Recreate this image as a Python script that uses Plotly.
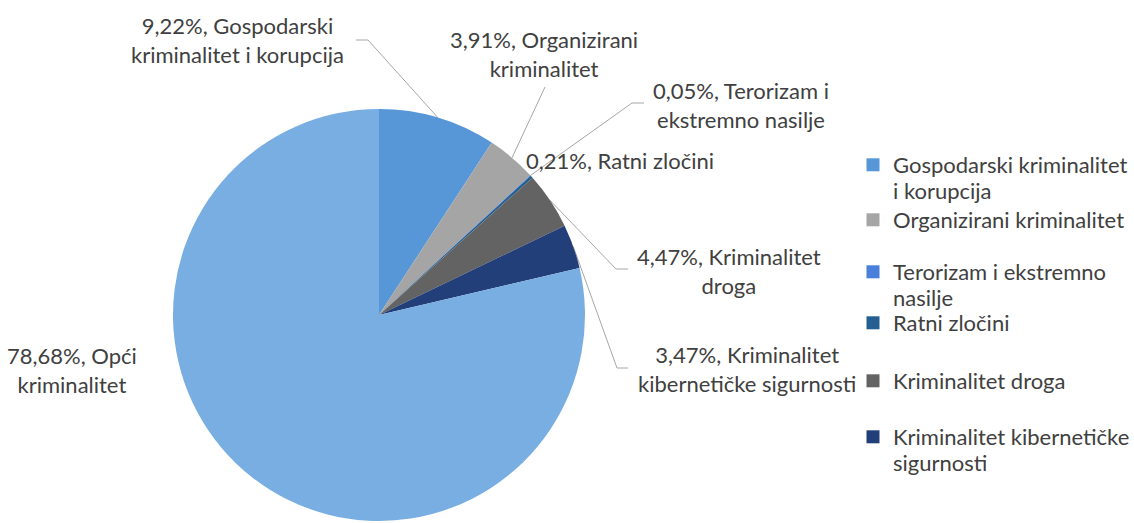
import math
import plotly.graph_objects as go

# ---- data ----
categories = ["Gospodarski kriminalitet i korupcija", "Organizirani kriminalitet",
              "Terorizam i ekstremno nasilje", "Ratni zločini", "Kriminalitet droga",
              "Kriminalitet kibernetičke sigurnosti", "Opći kriminalitet"]
shares = [9.22, 3.91, 0.05, 0.21, 4.47, 3.47, 78.68]
label_texts = ["9,22%, Gospodarski<br>kriminalitet i korupcija",
               "3,91%, Organizirani<br>kriminalitet",
               "0,05%, Terorizam i<br>ekstremno nasilje",
               "0,21%, Ratni zločini",
               "4,47%, Kriminalitet<br>droga",
               "3,47%, Kriminalitet<br>kibernetičke sigurnosti",
               "78,68%, Opći<br>kriminalitet"]
legend_first = ["Gospodarski kriminalitet", "Organizirani kriminalitet",
                "Terorizam i ekstremno", "Ratni zločini", "Kriminalitet droga",
                "Kriminalitet kibernetičke"]
legend_second = ["i korupcija", "", "nasilje", "", "", "sigurnosti"]

# ---- style ----
colors = ["#5797d8", "#a5a5a5", "#4a7fdc", "#255e91", "#636363", "#233f7a", "#78aee2"]
W, H = 1134, 523
CX, CY, R = 379, 315, 206
FONT = "Lato"
TXT = "#404040"
LINE = "#a6a6a6"
FS = 22

# label layout: (label center x, y, elbow x, y, end x, y) in pixels; None -> no leader
label_layout = [
    (237, 40, 368, 40, 356, 40),
    (544, 54, 545, 87, None, None),
    (741, 105, 632, 103, 644, 103),
    (620, 160, None, None, None, None),
    (729, 271, 616, 269, 628, 269),
    (747, 369, 617, 368, 628, 368),
    (72, 370, None, None, None, None),
]
# legend entries: first-line center y in pixels
legend_rows = [165, 220, 272, 323, 381, 437]
LEG_X = 853
LEG_TEXT_X = 891
LEG_LINE = 25

fig = go.Figure()
fig.add_trace(go.Pie(
    labels=categories, values=shares, sort=False, direction="clockwise", rotation=0,
    marker=dict(colors=colors, line=dict(width=0)), textinfo="none",
    showlegend=False, hoverinfo="label+percent",
    domain=dict(x=[(CX - R) / W, (CX + R) / W], y=[1 - (CY + R) / H, 1 - (CY - R) / H]),
))

# leader lines computed from slice mid-angles
total = sum(shares)
cum = 0.0
lx, ly = [], []
annotations = []
for i, v in enumerate(shares):
    mid = (cum + v / 2) / total * 2 * math.pi
    cum += v
    ex, ey = CX + R * math.sin(mid), CY - R * math.cos(mid)
    tx, ty, bx, by, fx, fy = label_layout[i]
    if bx is not None:
        lx += [ex, bx]
        ly += [ey, by]
        if fx is not None:
            lx += [fx]
            ly += [fy]
        lx += [None]
        ly += [None]
    annotations.append(dict(x=tx, y=ty, xref="x", yref="y", text=label_texts[i],
                            showarrow=False, align="center",
                            font=dict(family=FONT, size=FS, color=TXT)))

fig.add_trace(go.Scatter(x=lx, y=ly, mode="lines", line=dict(color=LINE, width=1),
                         showlegend=False, hoverinfo="skip"))

legends = {}
for i, t in enumerate(legend_first):
    lname = "legend" if i == 0 else f"legend{i + 1}"
    fig.add_trace(go.Scatter(x=[None], y=[None], mode="markers", name=t,
                             marker=dict(symbol="square", size=13, color=colors[i]),
                             showlegend=True, legend=lname))
    legends[lname] = dict(x=LEG_X / W, y=1 - (legend_rows[i] - 21) / H,
                          xanchor="left", yanchor="top", valign="middle",
                          font=dict(family=FONT, size=FS, color=TXT), itemwidth=30,
                          bgcolor="rgba(0,0,0,0)")
    if legend_second[i]:
        annotations.append(dict(x=LEG_TEXT_X, y=legend_rows[i] + LEG_LINE, xref="x", yref="y",
                                text=legend_second[i], showarrow=False, xanchor="left",
                                font=dict(family=FONT, size=FS, color=TXT)))

fig.update_layout(
    width=W, height=H, margin=dict(l=0, r=0, t=0, b=0, autoexpand=False),
    paper_bgcolor="white", plot_bgcolor="white",
    xaxis=dict(range=[0, W], visible=False, fixedrange=True, domain=[0, 1]),
    yaxis=dict(range=[H, 0], visible=False, fixedrange=True, domain=[0, 1]),
    annotations=annotations,
    font=dict(family=FONT),
    **legends,
)
fig.write_html("out.html", config={"displayModeBar": False},
               post_script="document.body.style.margin='0';")
